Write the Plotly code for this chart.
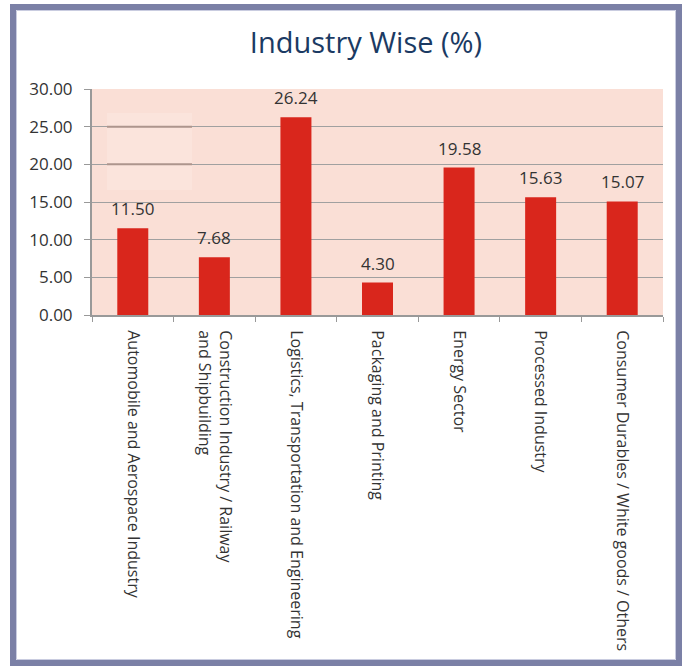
import plotly.graph_objects as go

categories = [
    "Automobile and Aerospace Industry",
    "Construction Industry / Railway<br>and Shipbuilding",
    "Logistics, Transportation and Engineering",
    "Packaging and Printing",
    "Energy Sector",
    "Processed Industry",
    "Consumer Durables / White goods / Others",
]
values = [11.50, 7.68, 26.24, 4.30, 19.58, 15.63, 15.07]
value_labels = ["11.50", "7.68", "26.24", "4.30", "19.58", "15.63", "15.07"]
y_ticks = [0, 5, 10, 15, 20, 25, 30]
title_text = "Industry Wise (%)"

W, H = 685, 668
L, R, T, B = 92, 663, 89, 315  # plot area in pixels

def px_x(p):
    return (p - L) / (R - L)

def px_y(p):
    return (B - p) / (B - T)

fig = go.Figure()
fig.add_trace(go.Bar(
    x=categories, y=values,
    marker=dict(color="#d9261c", line=dict(width=0)),
    width=0.38,
    hoverinfo="skip",
))

for c, v, t in zip(categories, values, value_labels):
    fig.add_annotation(
        x=c, y=v, text=t, showarrow=False, yanchor="bottom", yshift=6,
        font=dict(family="Open Sans", size=17, color="#333333"),
    )

shapes = [
    # outer frame
    dict(type="rect", xref="paper", yref="paper",
         x0=px_x(13), x1=px_x(679), y0=px_y(663), y1=px_y(7),
         line=dict(color="#7b80a6", width=6), fillcolor="rgba(0,0,0,0)", layer="below"),
    # inner light edge of frame
    dict(type="rect", xref="paper", yref="paper",
         x0=px_x(16.5), x1=px_x(675.5), y0=px_y(659.5), y1=px_y(10.5),
         line=dict(color="#c9cce0", width=1), fillcolor="rgba(0,0,0,0)", layer="below"),
    # faint patch artifact
    dict(type="rect", xref="paper", yref="y",
         x0=px_x(107), x1=px_x(192), y0=16.6, y1=26.8,
         line=dict(width=0), fillcolor="#fbe4dc", layer="between"),
    dict(type="line", xref="paper", yref="y",
         x0=px_x(107), x1=px_x(192), y0=25, y1=25,
         line=dict(color="#ad958d", width=2), layer="above"),
    dict(type="line", xref="paper", yref="y",
         x0=px_x(107), x1=px_x(192), y0=20, y1=20,
         line=dict(color="#ad958d", width=2), layer="above"),
]

fig.update_layout(
    width=W, height=H,
    margin=dict(l=L, r=W - R, t=T, b=H - B, pad=0),
    paper_bgcolor="white",
    plot_bgcolor="#fadfd6",
    showlegend=False,
    shapes=shapes,
    title=dict(
        text=title_text, x=366 / W, xanchor="center", xref="container",
        y=1 - 43 / H, yanchor="middle", yref="container",
        font=dict(family="Open Sans", size=29, color="#1b3a63"),
    ),
    xaxis=dict(
        tickangle=90, tickson="boundaries", ticks="outside", ticklen=5,
        tickcolor="#999999", showline=True, linecolor="#999999", linewidth=2,
        showgrid=False,
        tickfont=dict(family="Open Sans", size=16, color="#333333"),
        ticklabelstandoff=10,
        fixedrange=True,
    ),
    yaxis=dict(
        range=[0, 30], tickvals=y_ticks, tickformat=".2f",
        ticks="outside", ticklen=6, tickcolor="#999999",
        showline=True, linecolor="#999999", linewidth=2,
        showgrid=True, gridcolor="#a0a0a0", gridwidth=1,
        zeroline=False,
        tickfont=dict(family="Open Sans", size=17, color="#333333"),
        ticklabelstandoff=8,
        fixedrange=True,
    ),
)

fig.write_html(
    "out.html",
    config={"displayModeBar": False, "staticPlot": True},
    post_script="document.body.style.margin='0';document.body.style.overflow='hidden';",
)
